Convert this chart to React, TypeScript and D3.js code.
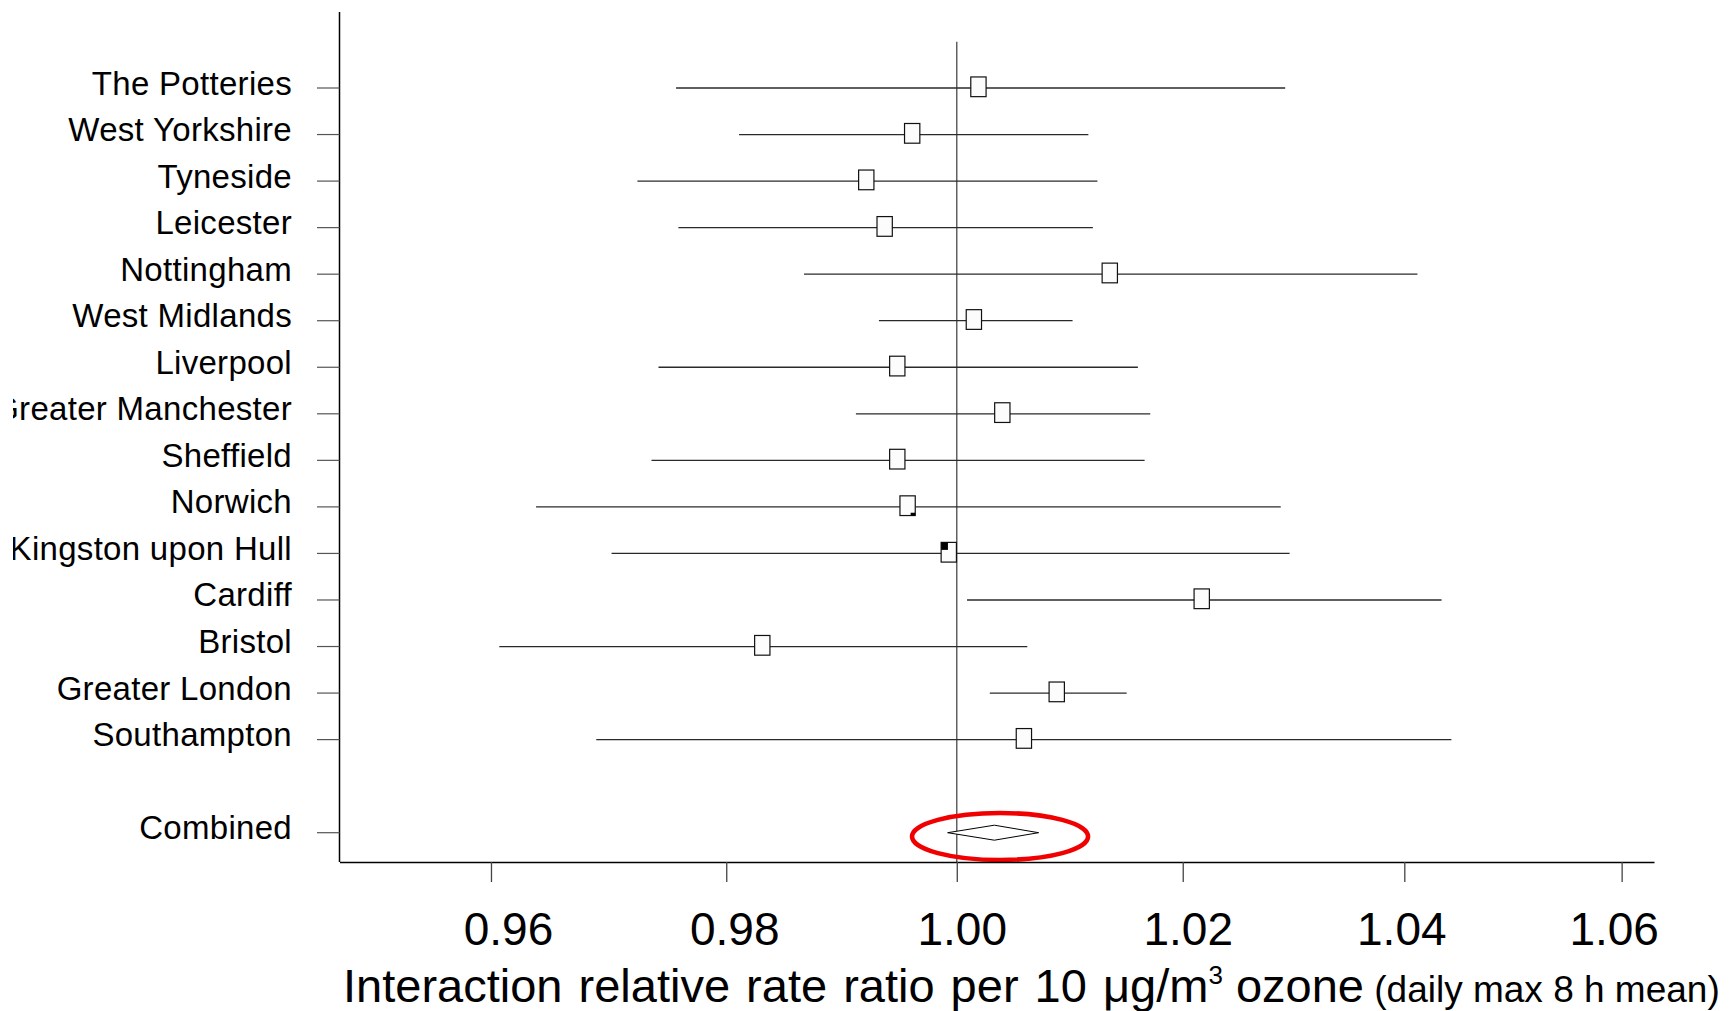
import React, { useEffect, useRef } from "react";
import * as d3 from "d3";

const sites = [
  "The Potteries",
  "West Yorkshire",
  "Tyneside",
  "Leicester",
  "Nottingham",
  "West Midlands",
  "Liverpool",
  "Greater Manchester",
  "Sheffield",
  "Norwich",
  "Kingston upon Hull",
  "Cardiff",
  "Bristol",
  "Greater London",
  "Southampton",
];
const estimates = [1.0019, 0.9961, 0.9921, 0.9937, 1.0135, 1.0015, 0.9948, 1.004, 0.9948, 0.9957, 0.9993, 1.0217, 0.9831, 1.0088, 1.0059];
const lower = [0.9757, 0.9811, 0.9724, 0.9759, 0.9867, 0.9932, 0.9742, 0.9912, 0.9736, 0.9638, 0.9702, 1.0009, 0.9607, 1.0029, 0.9689];
const upper = [1.0292, 1.0116, 1.0124, 1.012, 1.0412, 1.0102, 1.016, 1.0171, 1.0166, 1.0288, 1.0296, 1.0434, 1.0062, 1.015, 1.0443];

const combinedLabel = "Combined";
const combinedEstimate = 1.0033;
const combinedLower = 0.9992;
const combinedUpper = 1.0072;
const highlightCenter = 1.0038;

const xTicks = [0.96, 0.98, 1.0, 1.02, 1.04, 1.06];
const xDomain = [0.94734, 1.06301];

const FONT = "'Liberation Sans', Arial, Helvetica, sans-serif";
const TICK_LABEL_DX = [17, 8, 5, 5, -3, -8];

export default function App() {
  const ref = useRef<SVGSVGElement>(null);

  useEffect(() => {
    const svg = d3.select(ref.current);
    svg.selectAll("*").remove();

    const x = d3.scaleLog().domain(xDomain).range([339.5, 1654]);
    const combinedIndex = sites.length + 1;
    const y = d3.scaleLinear().domain([0, combinedIndex]).range([88, 832.7]);
    const axisY = 862;

    svg.append("rect").attr("width", 1734).attr("height", 1011).attr("fill", "#fff");

    const defs = svg.append("defs");
    defs
      .append("clipPath")
      .attr("id", "labelClip")
      .append("rect")
      .attr("x", 13)
      .attr("y", 0)
      .attr("width", 1734)
      .attr("height", 1011);

    // reference line at 1.00
    svg
      .append("line")
      .attr("x1", x(1))
      .attr("x2", x(1))
      .attr("y1", 41.7)
      .attr("y2", axisY)
      .attr("stroke", "#555")
      .attr("stroke-width", 1.4);

    // Y axis line
    svg
      .append("line")
      .attr("x1", 339.5)
      .attr("x2", 339.5)
      .attr("y1", 12)
      .attr("y2", axisY)
      .attr("stroke", "#000")
      .attr("stroke-width", 1.5);

    const rows = sites.map((s, i) => ({
      label: s,
      idx: i,
      est: estimates[i],
      lo: lower[i],
      hi: upper[i],
    }));

    const tickRows = [...rows.map((r) => ({ label: r.label, idx: r.idx })), { label: combinedLabel, idx: combinedIndex }];

    svg
      .append("g")
      .selectAll("line")
      .data(tickRows)
      .join("line")
      .attr("x1", 317)
      .attr("x2", 339.5)
      .attr("y1", (d) => y(d.idx))
      .attr("y2", (d) => y(d.idx))
      .attr("stroke", "#555")
      .attr("stroke-width", 1.2);

    svg
      .append("g")
      .attr("clip-path", "url(#labelClip)")
      .selectAll("text")
      .data(tickRows)
      .join("text")
      .attr("x", 292)
      .attr("y", (d) => y(d.idx) + 6.5)
      .attr("text-anchor", "end")
      .attr("font-family", FONT)
      .attr("font-size", 33)
      .attr("letter-spacing", 0.3)
      .attr("fill", "#000")
      .text((d) => d.label);

    svg
      .append("g")
      .selectAll("line")
      .data(rows)
      .join("line")
      .attr("x1", (d) => x(d.lo))
      .attr("x2", (d) => x(d.hi))
      .attr("y1", (d) => y(d.idx))
      .attr("y2", (d) => y(d.idx))
      .attr("stroke", "#2a2a2a")
      .attr("stroke-width", 1.3);

    const mw = 15.3;
    const mh = 19.7;
    svg
      .append("g")
      .selectAll("rect")
      .data(rows)
      .join("rect")
      .attr("x", (d) => x(d.est) - mw / 2)
      .attr("y", (d) => y(d.idx) - mh / 2 - 1.2)
      .attr("width", mw)
      .attr("height", mh)
      .attr("fill", "#fcfcfc")
      .attr("stroke", "#111")
      .attr("stroke-width", 1.2);

    const norwich = rows[9];
    svg
      .append("rect")
      .attr("x", x(norwich.est) + mw / 2 - 4.6)
      .attr("y", y(norwich.idx) + mh / 2 - 1.2 - 2.8)
      .attr("width", 4.6)
      .attr("height", 2.8)
      .attr("fill", "#000");
    const hull = rows[10];
    svg
      .append("rect")
      .attr("x", x(hull.est) - mw / 2)
      .attr("y", y(hull.idx) - mh / 2 - 1.2)
      .attr("width", 6.8)
      .attr("height", 7.5)
      .attr("fill", "#000");

    const cy = y(combinedIndex);
    const diamond = d3.line()([
      [x(combinedLower), cy],
      [x(combinedEstimate), cy - 7.5],
      [x(combinedUpper), cy],
      [x(combinedEstimate), cy + 7.5],
    ]);
    svg
      .append("path")
      .attr("d", diamond + "Z")
      .attr("fill", "#fff")
      .attr("stroke", "#000")
      .attr("stroke-width", 1);

    svg
      .append("ellipse")
      .attr("cx", x(highlightCenter))
      .attr("cy", cy + 3.8)
      .attr("rx", 88)
      .attr("ry", 23.5)
      .attr("fill", "none")
      .attr("stroke", "#f00000")
      .attr("stroke-width", 4.6);

    const xAxis = d3
      .axisBottom(x)
      .tickValues(xTicks)
      .tickFormat(d3.format(".2f") as any)
      .tickSize(20)
      .tickSizeOuter(0)
      .tickPadding(30.3);
    const gx = svg.append("g").attr("transform", `translate(0,${axisY})`).call(xAxis as any);
    gx.select(".domain").attr("stroke", "#000").attr("stroke-width", 1.5);
    gx.selectAll(".tick line").attr("stroke", "#444").attr("stroke-width", 1.3);
    gx.selectAll(".tick text")
      .attr("font-family", FONT)
      .attr("font-size", 46)
      .attr("fill", "#000")
      .attr("dx", (_d: any, i: number) => TICK_LABEL_DX[i]);

    const title = svg
      .append("text")
      .attr("x", 343)
      .attr("y", 1001.5)
      .attr("font-family", FONT)
      .attr("fill", "#000");
    title
      .append("tspan")
      .attr("font-size", 47)
      .attr("word-spacing", 3)
      .text("Interaction relative rate ratio per 10 μg/m");
    title.append("tspan").attr("font-size", 26).attr("dy", -18).text("3");
    title.append("tspan").attr("font-size", 47).attr("dy", 18).text(" ozone");
    title.append("tspan").attr("font-size", 37).text(" (daily max 8 h mean)");
  }, []);

  return (
    <svg
      ref={ref}
      width={1734}
      height={1011}
      style={{ position: "absolute", left: 0, top: 0, display: "block" }}
    />
  );
}
